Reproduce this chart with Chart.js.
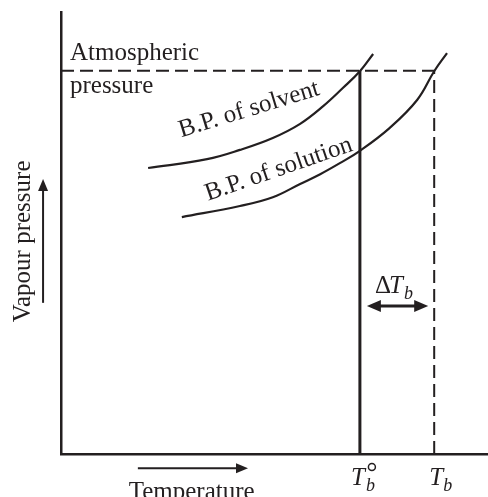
<!DOCTYPE html>
<html>
<head>
<meta charset="utf-8">
<script src="https://cdn.jsdelivr.net/npm/chart.js@4.4.0/dist/chart.umd.min.js"></script>
<style>
  html, body { margin: 0; padding: 0; background: #fff; }
  #wrap { width: 488px; height: 497px; }
</style>
</head>
<body>
<div id="wrap"><canvas id="bpChart"></canvas></div>
<script>
// temperature / vapour pressure in arbitrary units (0..100)
const atmPressure = 86.7;
const tSolvent = 70.0;
const tSolution = 87.4;

const solventCurve = [
  { x: 20.4, y: 64.7 }, { x: 34.2, y: 66.7 }, { x: 41.9, y: 68.8 },
  { x: 49.6, y: 71.5 }, { x: 56.0, y: 74.7 }, { x: 61.4, y: 78.7 },
  { x: 66.0, y: 82.8 }, { x: 70.0, y: 86.6 }, { x: 73.1, y: 90.5 }
];
const solutionCurve = [
  { x: 28.3, y: 53.6 }, { x: 41.9, y: 56.1 }, { x: 49.6, y: 58.1 },
  { x: 56.0, y: 61.1 }, { x: 60.7, y: 63.3 }, { x: 65.3, y: 65.8 },
  { x: 70.0, y: 68.6 }, { x: 77.0, y: 73.8 }, { x: 83.4, y: 80.1 },
  { x: 87.4, y: 86.6 }, { x: 90.4, y: 90.7 }
];

const ink = '#231f20';
const serif = '"Liberation Serif", "DejaVu Serif", serif';

function arrowHead(ctx, x, y, ang, len, wid) {
  ctx.save();
  ctx.translate(x, y);
  ctx.rotate(ang);
  ctx.beginPath();
  ctx.moveTo(0, 0);
  ctx.lineTo(-len, -wid / 2);
  ctx.lineTo(-len, wid / 2);
  ctx.closePath();
  ctx.fill();
  ctx.restore();
}

const labelsPlugin = {
  id: 'labels',
  afterDraw(chart) {
    const ctx = chart.ctx;
    const sx = chart.scales.x, sy = chart.scales.y;
    const px = v => sx.getPixelForValue(v);
    const py = v => sy.getPixelForValue(v);
    ctx.save();
    ctx.fillStyle = ink;
    ctx.strokeStyle = ink;
    ctx.textBaseline = 'alphabetic';
    ctx.font = '25px ' + serif;

    // atmospheric pressure
    ctx.textAlign = 'left';
    ctx.fillText('Atmospheric', px(2.1), py(atmPressure) - 11);
    ctx.fillText('pressure', px(2.1), py(atmPressure) + 22);

    // curve labels
    ctx.save();
    ctx.translate(px(44.5), py(76.5));
    ctx.rotate(-17 * Math.PI / 180);
    ctx.textAlign = 'center';
    ctx.fillText('B.P. of solvent', 0, 0);
    ctx.restore();
    ctx.save();
    ctx.translate(px(51.5), py(63));
    ctx.rotate(-19 * Math.PI / 180);
    ctx.textAlign = 'center';
    ctx.fillText('B.P. of solution', 0, 0);
    ctx.restore();

    // y axis title + arrow
    ctx.save();
    ctx.translate(px(-7.3), py(48.1));
    ctx.rotate(-Math.PI / 2);
    ctx.textAlign = 'center';
    ctx.fillText('Vapour pressure', 0, 0);
    ctx.restore();
    ctx.lineWidth = 2;
    const ax = px(-4.2);
    ctx.beginPath();
    ctx.moveTo(ax, py(34.2));
    ctx.lineTo(ax, py(60));
    ctx.stroke();
    arrowHead(ctx, ax, py(62.2), -Math.PI / 2, 12, 10);

    // x axis title + arrow
    ctx.textAlign = 'center';
    ctx.fillText('Temperature', px(30.6), 499);
    const ay = py(-3.2);
    ctx.beginPath();
    ctx.moveTo(px(18.0), ay);
    ctx.lineTo(px(41.5), ay);
    ctx.stroke();
    arrowHead(ctx, px(43.8), ay, 0, 12, 10);

    // T labels
    const dT = py(36.4);
    ctx.font = 'italic 25px ' + serif;
    ctx.textAlign = 'left';
    ctx.fillText('T', px(tSolvent) - 9, 485);
    ctx.fillText('T', px(tSolution) - 5, 485);
    ctx.fillText('T', px(tSolvent) + 29, dT);
    ctx.font = 'italic 18px ' + serif;
    ctx.fillText('b', px(tSolvent) + 6, 491);
    ctx.fillText('b', px(tSolution) + 9, 491);
    ctx.fillText('b', px(tSolvent) + 44, dT + 6);
    ctx.font = '25px ' + serif;
    ctx.fillText('Δ', px(tSolvent) + 15, dT);
    // degree sign
    ctx.lineWidth = 1.5;
    ctx.beginPath();
    ctx.arc(px(tSolvent) + 12, 467, 3.5, 0, Math.PI * 2);
    ctx.stroke();

    // delta T double arrow
    ctx.lineWidth = 3;
    const dy = py(33.5);
    const x1 = px(tSolvent) + 7, x2 = px(tSolution) - 6;
    ctx.beginPath();
    ctx.moveTo(x1 + 10, dy);
    ctx.lineTo(x2 - 10, dy);
    ctx.stroke();
    arrowHead(ctx, x1, dy, Math.PI, 14, 12);
    arrowHead(ctx, x2, dy, 0, 14, 12);
    ctx.restore();
  }
};

const ctx = document.getElementById('bpChart').getContext('2d');
new Chart(ctx, {
  type: 'scatter',
  data: {
    datasets: [
      {
        label: 'B.P. of solvent',
        data: solventCurve,
        showLine: true,
        borderColor: ink,
        borderWidth: 2.2,
        pointRadius: 0,
        tension: 0.4
      },
      {
        label: 'B.P. of solution',
        data: solutionCurve,
        showLine: true,
        borderColor: ink,
        borderWidth: 2.2,
        pointRadius: 0,
        tension: 0.4
      },
      {
        label: 'Atmospheric pressure',
        data: [{ x: 0, y: atmPressure }, { x: tSolution, y: atmPressure }],
        showLine: true,
        borderColor: ink,
        borderWidth: 2,
        borderDash: [13, 6],
        pointRadius: 0
      },
      {
        label: 'Tb0',
        data: [{ x: tSolvent, y: 0 }, { x: tSolvent, y: atmPressure }],
        showLine: true,
        borderColor: ink,
        borderWidth: 3,
        pointRadius: 0
      },
      {
        label: 'Tb',
        data: [{ x: tSolution, y: 0 }, { x: tSolution, y: atmPressure }],
        showLine: true,
        borderColor: ink,
        borderWidth: 2,
        borderDash: [13, 6],
        pointRadius: 0
      }
    ]
  },
  options: {
    responsive: true,
    maintainAspectRatio: false,
    animation: false,
    layout: { padding: { left: 53, top: 12, right: 0, bottom: 35 } },
    plugins: { legend: { display: false }, tooltip: { enabled: false } },
    scales: {
      x: {
        type: 'linear', min: 0, max: 100,
        grid: { display: false },
        ticks: { display: false },
        border: { display: true, color: ink, width: 2.5 }
      },
      y: {
        type: 'linear', min: 0, max: 100,
        grid: { display: false },
        ticks: { display: false },
        border: { display: true, color: ink, width: 2.5 }
      }
    }
  },
  plugins: [labelsPlugin]
});
</script>
</body>
</html>
